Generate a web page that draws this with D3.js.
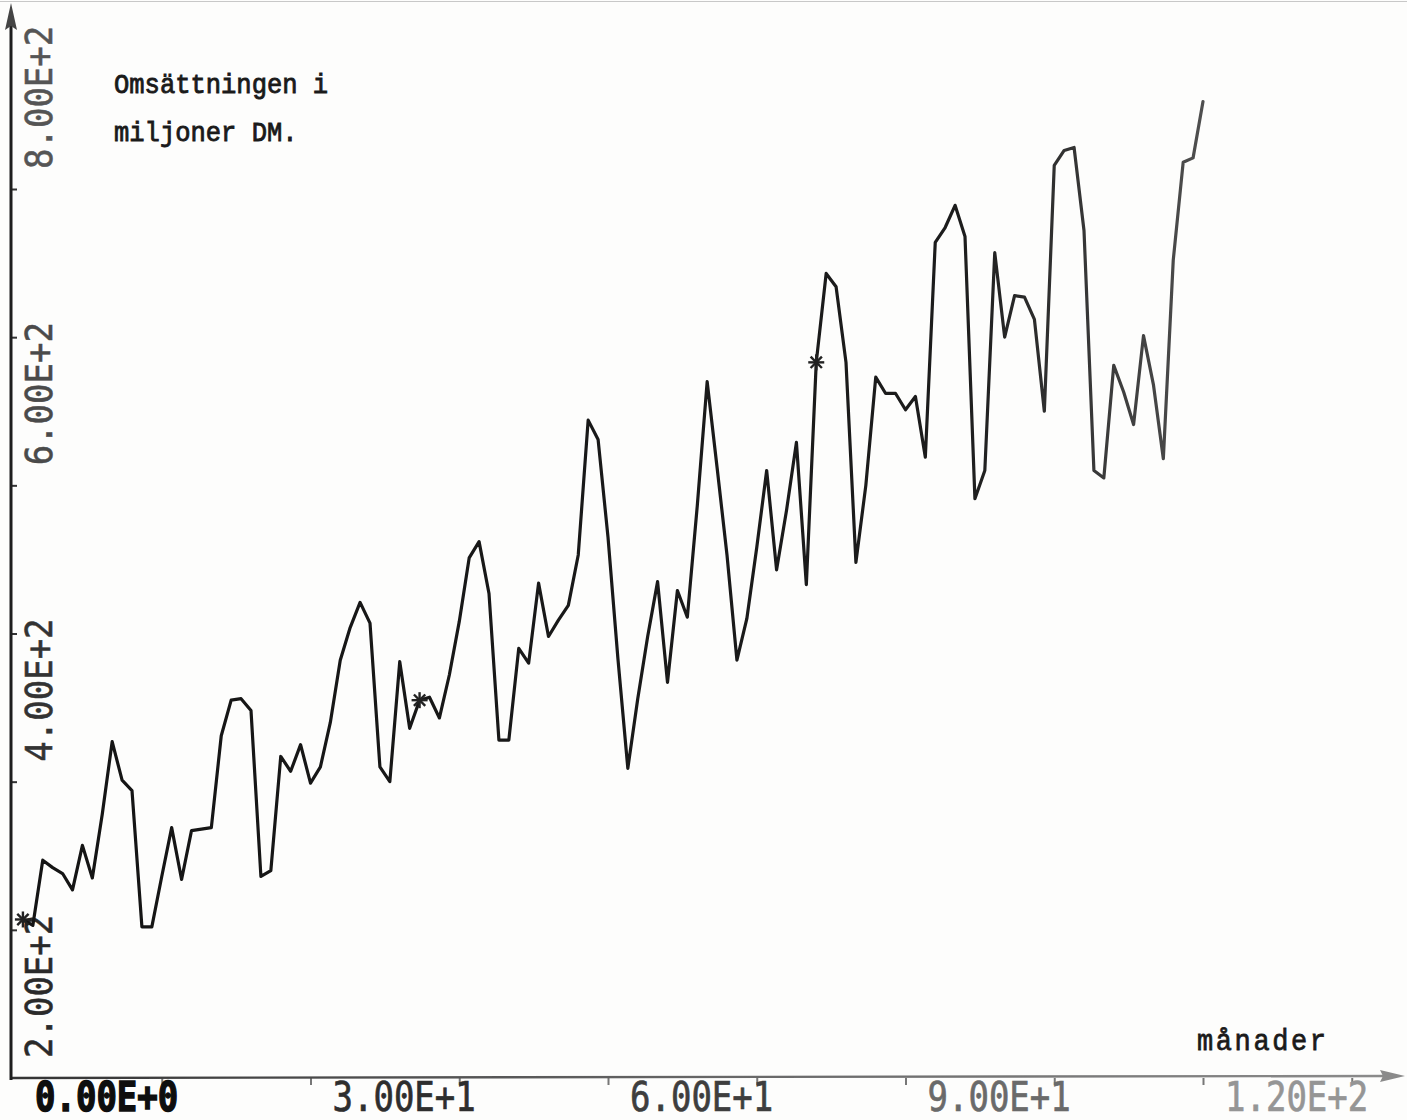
<!DOCTYPE html>
<html>
<head>
<meta charset="utf-8">
<script src="https://cdn.jsdelivr.net/npm/d3@7"></script>
<style>
  html, body { margin: 0; padding: 0; background: #fff; }
  svg { display: block; }
</style>
</head>
<body>
<svg id="chart" width="1407" height="1120"></svg>
<script>
// ---- data ----
const months = [1,2,3,4,5,6,7,8,9,10,11,12,13,14,15,16,17,18,19,20,
  21,22,23,24,25,26,27,28,29,30,31,32,33,34,35,36,37,38,39,40,
  41,42,43,44,45,46,47,48,49,50,51,52,53,54,55,56,57,58,59,60,
  61,62,63,64,65,66,67,68,69,70,71,72,73,74,75,76,77,78,79,80,
  81,82,83,84,85,86,87,88,89,90,91,92,93,94,95,96,97,98,99,100,
  101,102,103,104,105,106,107,108,109,110,111,112,113,114,115,116,117,118,119,120];
const turnover = [307,303,347,342,338,327,357,335,378,427,401,394,302,302,336,369,334,367,368,369,
  431,455,456,448,336,340,417,407,425,399,410,440,482,504,521,507,410,400,481,436,
  455,457,443,472,508,551,562,527,428,428,490,480,534,498,509,519,553,644,631,565,
  483,409,456,498,535,467,529,511,586,670,612,553,482,510,558,610,543,583,629,533,
  683,743,734,683,548,600,673,662,662,651,660,619,764,774,789,768,591,610,757,700,
  728,727,712,650,816,826,828,772,610,605,681,663,641,701,668,618,752,818,821,859];
const markerMonths = [1, 41, 81];
const xTickValues = [15,30,45,60,75,90,105,120,135];
const xLabelValues = [0,30,60,90,120];
const xLabels = ["0.00E+0","3.00E+1","6.00E+1","9.00E+1","1.20E+2"];
const yTickValues = [300,400,500,600,700,800];
const yLabelValues = [200,400,600,800];
const yLabels = ["2.00E+2","4.00E+2","6.00E+2","8.00E+2"];
const titleLines = ["Omsättningen i","miljoner DM."];
const xTitle = "månader";

// ---- drawing ----
const svg = d3.select("#chart");
const W = 1407, H = 1120;
const xs = d3.scaleLinear().domain([0,120]).range([13,1203]);
const ys = d3.scaleLinear().domain([200,800]).range([1078,189]);
const series = months.map((m,i)=>({m, v: turnover[i]}));

svg.append("rect").attr("width",W).attr("height",H).attr("fill","#fdfdfc");

// faint paper edge at top
svg.append("line").attr("x1",0).attr("x2",W).attr("y1",1.5).attr("y2",1.5)
  .attr("stroke","#c8c8c8").attr("stroke-width",1.2);

const defs = svg.append("defs");
const grad = defs.append("linearGradient").attr("id","fade")
  .attr("gradientUnits","userSpaceOnUse").attr("x1",0).attr("x2",W).attr("y1",0).attr("y2",0);
grad.append("stop").attr("offset","0%").attr("stop-color","#141414");
grad.append("stop").attr("offset","68%").attr("stop-color","#1c1c1c");
grad.append("stop").attr("offset","86%").attr("stop-color","#505050");
grad.append("stop").attr("offset","100%").attr("stop-color","#8a8a8a");

const axisGrad = defs.append("linearGradient").attr("id","axfade")
  .attr("gradientUnits","userSpaceOnUse").attr("x1",0).attr("x2",W).attr("y1",0).attr("y2",0);
axisGrad.append("stop").attr("offset","0%").attr("stop-color","#333");
axisGrad.append("stop").attr("offset","50%").attr("stop-color","#666");
axisGrad.append("stop").attr("offset","100%").attr("stop-color","#8c8c8c");

// x axis ticks via d3 axis
const xAxis = d3.axisBottom(xs).tickValues(xTickValues).tickSize(7).tickFormat("");
const gx = svg.append("g").attr("transform","translate(0,1078)").call(xAxis);
gx.select(".domain").remove();
gx.selectAll(".tick line").attr("stroke","#777").attr("stroke-width",2);

// x axis line with arrow
svg.append("line").attr("x1",11).attr("x2",1392).attr("y1",1078).attr("y2",1076)
  .attr("stroke","url(#axfade)").attr("stroke-width",2.4);
svg.append("path").attr("d","M1405,1076 L1380,1070 L1383,1076 L1380,1082 Z")
  .attr("fill","#8a8a8a");

// y axis ticks via d3 axis
const yAxis = d3.axisRight(ys).tickValues(yTickValues).tickSize(6).tickFormat("");
const gy = svg.append("g").attr("transform","translate(11,0)").call(yAxis);
gy.select(".domain").remove();
gy.selectAll(".tick line").attr("stroke","#333").attr("stroke-width",2);

// y axis line with arrow
svg.append("line").attr("x1",11).attr("x2",11).attr("y1",1080).attr("y2",20)
  .attr("stroke","#1e1e1e").attr("stroke-width",3);
svg.append("path").attr("d","M11,3 L5,30 L11,26 L17,30 Z").attr("fill","#444");

// x tick labels
const xColors = ["#0e0e0e","#2e2e2e","#3e3e3e","#6a6a6a","#959595"];
svg.selectAll(".xlab").data(xLabelValues).enter().append("text")
  .attr("class","xlab")
  .attr("transform", d => `translate(${xs(d)+22},1111) scale(1,1.18)`)
  .attr("font-family","'DejaVu Sans Mono', monospace")
  .attr("font-size",34)
  .attr("font-weight",(d,i)=> i===0 ? "bold" : "normal")
  .attr("fill",(d,i)=>xColors[i])
  .attr("stroke",(d,i)=>xColors[i]).attr("stroke-width",(d,i)=> i===0?1.2:0.6)
  .text((d,i)=>xLabels[i]);

// y tick labels (rotated)
const yColors = ["#2a2a2a","#333","#4a4a4a","#555"];
svg.selectAll(".ylab").data(yLabelValues).enter().append("text")
  .attr("class","ylab")
  .attr("transform", d => `translate(52,${ys(d)-20}) rotate(-90) scale(1,1.12)`)
  .attr("font-family","'DejaVu Sans Mono', monospace")
  .attr("font-size",34)
  .attr("fill",(d,i)=>yColors[i])
  .attr("stroke",(d,i)=>yColors[i]).attr("stroke-width",0.5)
  .text((d,i)=>yLabels[i]);

// title
svg.selectAll(".title").data(titleLines).enter().append("text")
  .attr("class","title")
  .attr("transform",(d,i)=>`translate(114,${93 + i*48}) scale(1,1.12)`)
  .attr("font-family","'Liberation Mono', 'Courier New', monospace")
  .attr("font-size",25.5)
  .attr("fill","#1a1a1a").attr("stroke","#1a1a1a").attr("stroke-width",0.8)
  .text(d=>d);

// x axis title
svg.append("text").attr("transform","translate(1197,1050) scale(1,1.1)")
  .attr("font-family","'Liberation Mono', 'Courier New', monospace")
  .attr("font-size",27).attr("letter-spacing",2.6)
  .attr("fill","#1a1a1a").attr("stroke","#1a1a1a").attr("stroke-width",0.7)
  .text(xTitle);

// data line
const line = d3.line().x(d=>xs(d.m)).y(d=>ys(d.v));
svg.append("path").datum(series)
  .attr("d",line)
  .attr("fill","none")
  .attr("stroke","url(#fade)")
  .attr("stroke-width",3.2)
  .attr("stroke-linejoin","round")
  .attr("stroke-linecap","round");

// star markers
const markerData = series.filter(d => markerMonths.includes(d.m));
const mg = svg.selectAll(".mk").data(markerData).enter().append("g")
  .attr("transform", d => `translate(${xs(d.m)},${ys(d.v)})`);
mg.each(function(){
  const g = d3.select(this);
  [0,45,90,135].forEach(a=>{
    g.append("line").attr("x1",-8).attr("x2",8).attr("y1",0).attr("y2",0)
      .attr("transform",`rotate(${a})`)
      .attr("stroke","#222").attr("stroke-width",2.4);
  });
});
</script>
</body>
</html>
